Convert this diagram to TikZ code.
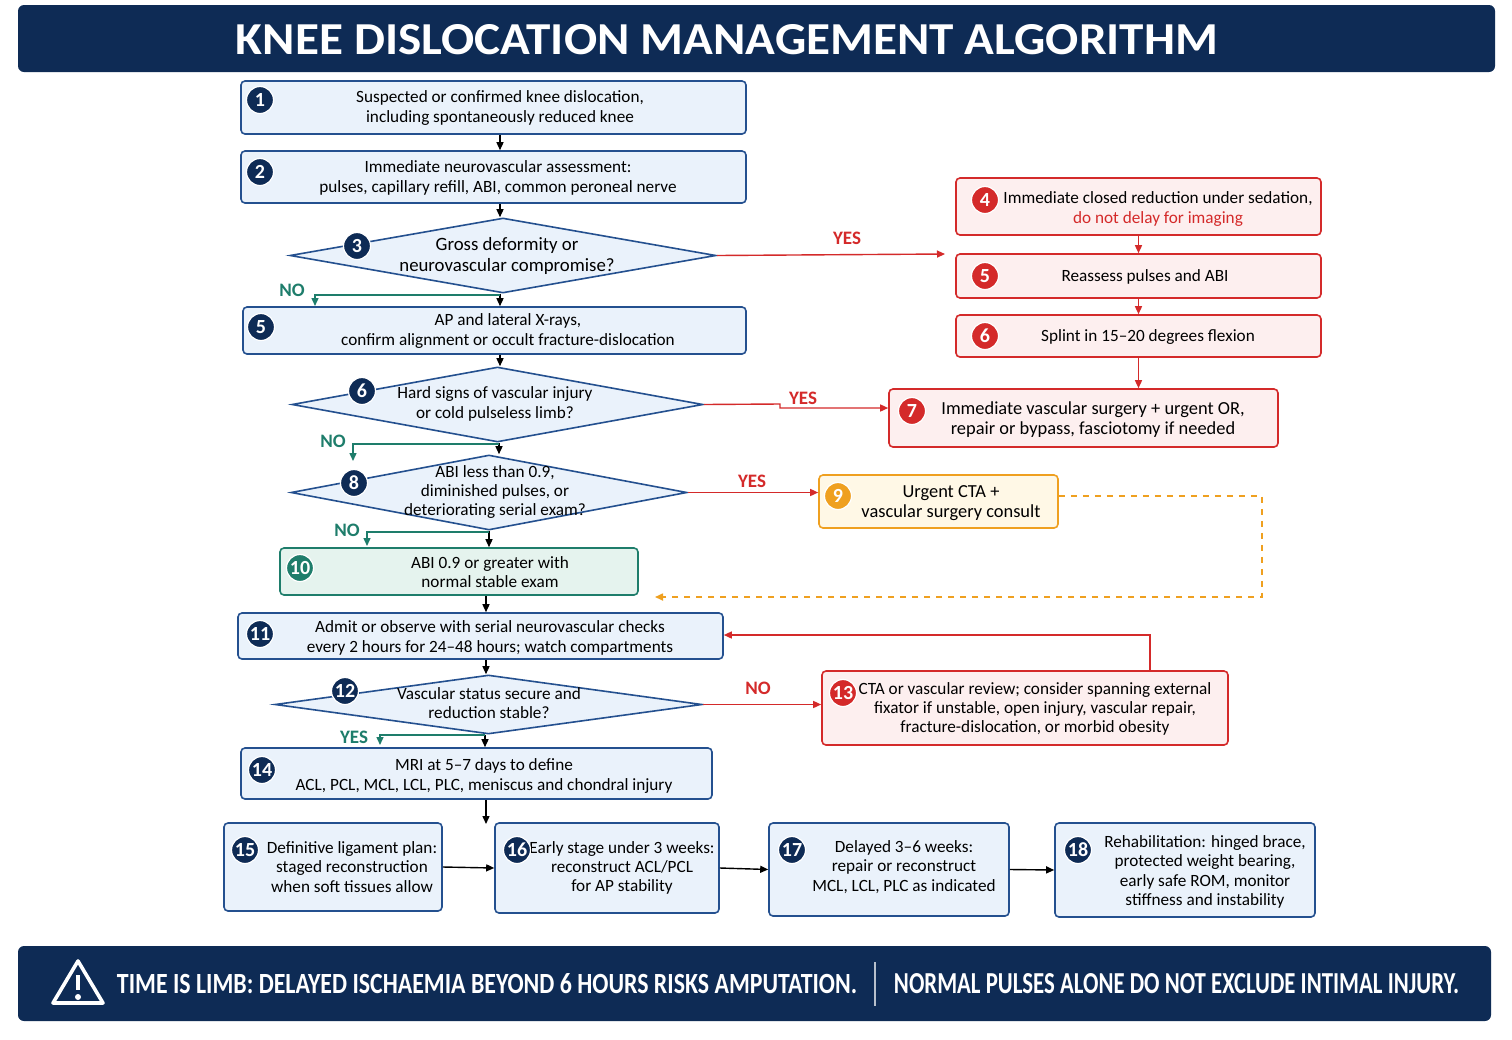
\documentclass[tikz,border=0pt]{standalone}
\usepackage{fontspec}
\setmainfont{Carlito}
\usetikzlibrary{shapes.geometric,arrows.meta,calc}
\definecolor{navy}{HTML}{0E2B55}
\definecolor{bblue}{HTML}{24508F}
\definecolor{bfill}{HTML}{EAF2FB}
\definecolor{rred}{HTML}{D42A2A}
\definecolor{rfill}{HTML}{FDEFEF}
\definecolor{oor}{HTML}{EFA020}
\definecolor{ofill}{HTML}{FFF8E6}
\definecolor{teal1}{HTML}{1E7D6B}
\definecolor{tfill}{HTML}{E5F3EE}
\begin{document}
\begin{tikzpicture}[x=0.5pt,y=-0.5pt,
 font=\fontsize{8.6}{9.6}\selectfont,
 box/.style={draw=bblue,fill=bfill,line width=0.8pt,rounded corners=2pt,inner sep=0pt},
 rbox/.style={box,draw=rred,fill=rfill},
 obox/.style={box,draw=oor,fill=ofill},
 tbox/.style={box,draw=teal1,fill=tfill},
 dia/.style={draw=bblue,fill=bfill,line width=0.8pt,diamond,inner sep=0pt},
 txt/.style={align=center,inner sep=0pt},
 bad/.style={circle,fill=navy,draw=white,line width=0.6pt,text=white,font=\bfseries\fontsize{10}{10}\selectfont,minimum size=13.5pt,inner sep=0pt},
 arr/.style={-{Triangle[length=4pt,width=3.5pt]},line width=0.7pt,black},
 rarr/.style={arr,rred},
 tarr/.style={arr,teal1},
 lab/.style={font=\bfseries\fontsize{9.5}{10}\selectfont,inner sep=0pt}]
\useasboundingbox (0,0) rectangle (1512,1040);
\fill[white] (0,0) rectangle (1512,1040);
% title
\fill[navy,rounded corners=3pt] (18,5) rectangle (1495,72);
\node[text=white,inner sep=0pt] (title) at (727,40) {\resizebox{491pt}{15pt}{\bfseries KNEE DISLOCATION MANAGEMENT ALGORITHM}};
% boxes
\node[box,minimum width=252.5pt,minimum height=26.5pt] (n1) at (493.5,107.5) {};
\node[box,minimum width=252.5pt,minimum height=26pt] (n2) at (493.5,177) {};
\node[dia,minimum width=213pt,minimum height=37.5pt] (d3) at (503,255.5) {};
\node[box,minimum width=251.5pt,minimum height=23.5pt] (n5) at (494.5,330.5) {};
\node[dia,minimum width=205.5pt,minimum height=37.5pt] (d6) at (497.5,404.5) {};
\node[dia,minimum width=198pt,minimum height=37.5pt] (d8) at (489,492.5) {};
\node[tbox,minimum width=179pt,minimum height=23.5pt] (n10) at (459,571.5) {};
\node[box,minimum width=242.5pt,minimum height=23pt] (n11) at (480.5,636) {};
\node[dia,minimum width=213.5pt,minimum height=29.5pt] (d12) at (488.5,704.5) {};
\node[box,minimum width=235.5pt,minimum height=25.5pt] (n14) at (476.5,773.5) {};
\node[box,minimum width=109pt,minimum height=44pt] (n15) at (333,867) {};
\node[box,minimum width=112pt,minimum height=45pt] (n16) at (607,868) {};
\node[box,minimum width=120pt,minimum height=46.5pt] (n17) at (889,869.5) {};
\node[box,minimum width=130pt,minimum height=47pt] (n18) at (1185,870) {};
\node[rbox,minimum width=182.5pt,minimum height=28.5pt] (n4) at (1138.5,206.5) {};
\node[rbox,minimum width=182.5pt,minimum height=22pt] (n5r) at (1138.5,276) {};
\node[rbox,minimum width=182.5pt,minimum height=21pt] (n6r) at (1138.5,336) {};
\node[rbox,minimum width=194.5pt,minimum height=29pt] (n7) at (1083.5,418) {};
\node[obox,minimum width=119.5pt,minimum height=26.5pt] (n9) at (938.5,501.5) {};
\node[rbox,minimum width=203pt,minimum height=37pt] (n13) at (1025,708) {};
% texts
\node[txt] (t1) at (500,108) {Suspected or confirmed knee dislocation,\\including spontaneously reduced knee};
\node[txt] (t2) at (498,178) {Immediate neurovascular assessment:\\pulses, capillary refill, ABI, common peroneal nerve};
\node[txt,font=\fontsize{9.4}{10.2}\selectfont] (t3) at (507,256) {Gross deformity or\\neurovascular compromise?};
\node[txt] (t4) at (1158,209) {Immediate closed reduction under sedation,\\\textcolor{rred}{do not delay for imaging}};
\node[txt] (t5r) at (1145,277) {Reassess pulses and ABI};
\node[txt] (t6r) at (1148,337) {Splint in 15--20 degrees flexion};
\node[txt] (t5) at (508,331) {AP and lateral X-rays,\\confirm alignment or occult fracture-dislocation};
\node[txt] (t6) at (495,404) {Hard signs of vascular injury\\or cold pulseless limb?};
\node[txt,font=\fontsize{9.2}{10}\selectfont] (t7) at (1093,420) {Immediate vascular surgery + urgent OR,\\repair or bypass, fasciotomy if needed};
\node[txt] (t8) at (495,492) {ABI less than 0.9,\\diminished pulses, or\\deteriorating serial exam?};
\node[txt,font=\fontsize{9.2}{10}\selectfont] (t9) at (951,503) {Urgent CTA +\\vascular surgery consult};
\node[txt] (t10) at (490,572) {ABI 0.9 or greater with\\normal stable exam};
\node[txt] (t11) at (490,638) {Admit or observe with serial neurovascular checks\\every 2 hours for 24--48 hours; watch compartments};
\node[txt] (t12) at (489,703) {Vascular status secure and\\reduction stable?};
\node[txt] (t13) at (1035,709) {CTA or vascular review; consider spanning external\\fixator if unstable, open injury, vascular repair,\\fracture-dislocation, or morbid obesity};
\node[txt] (t14) at (484,776) {MRI at 5--7 days to define\\ACL, PCL, MCL, LCL, PLC, meniscus and chondral injury};
\node[txt] (t15) at (352,867) {Definitive ligament plan:\\staged reconstruction\\when soft tissues allow};
\node[txt] (t16) at (622,868) {Early stage under 3 weeks:\\reconstruct ACL/PCL\\for AP stability};
\node[txt] (t17) at (904,867) {Delayed 3--6 weeks:\\repair or reconstruct\\MCL, LCL, PLC as indicated};
\node[txt] (t18) at (1205,872) {Rehabilitation: hinged brace,\\protected weight bearing,\\early safe ROM, monitor\\stiffness and instability};
% badges
\node[bad] (b1) at (260,100) {1};
\node[bad] (b2) at (260,172) {2};
\node[bad] (b3) at (357,246) {3};
\node[bad,fill=rred] (b4) at (985,200) {4};
\node[bad,fill=rred] (b5r) at (985,276) {5};
\node[bad,fill=rred] (b6r) at (985,336) {6};
\node[bad] (b5) at (261,327) {5};
\node[bad] (b6) at (362,391) {6};
\node[bad,fill=rred] (b7) at (912,411) {7};
\node[bad] (b8) at (354,483) {8};
\node[bad,fill=oor] (b9) at (838,496) {9};
\node[bad,fill=teal1] (b10) at (300,568) {10};
\node[bad] (b11) at (260,634) {11};
\node[bad] (b12) at (345,691) {12};
\node[bad,fill=rred] (b13) at (843,693) {13};
\node[bad] (b14) at (262,770) {14};
\node[bad] (b15) at (245,850) {15};
\node[bad] (b16) at (517,850) {16};
\node[bad] (b17) at (792,850) {17};
\node[bad] (b18) at (1078,850) {18};
% coordinates
\coordinate (c3no) at (315,295);
\coordinate (c3yes) at (945,254);
\coordinate (c6no) at (353,444);
\coordinate (c6yes) at (780,404);
\coordinate (c8no) at (367,532);
\coordinate (c9a) at (1262,496);
\coordinate (c9b) at (1262,597);
\coordinate (c9c) at (655,597);
\coordinate (c13a) at (1150,635);
\coordinate (c12yes) at (380,735);
\coordinate (c14) at (486,824);
% connectors
\draw[arr] (n1.south -| 500,0) -- (n2.north -| 500,0);
\draw[arr] (n2.south -| 500,0) -- (d3.north -| 500,0);
\draw[arr] (d3.south -| 500,0) -- (n5.north -| 500,0);
\draw[tarr] (500,295) -- (c3no) -- ++(0,11);
\node[lab,text=teal1] at (292,290) {NO};
\draw[rarr] (d3.east) -- (c3yes);
\node[lab,text=rred] at (847,238) {YES};
\draw[rarr] (n4) -- (n5r);
\draw[rarr] (n5r) -- (n6r);
\draw[rarr] (n6r.south) -- (n7.north -| n6r.south);
\draw[arr] (n5.south -| 500,0) -- (d6.north -| 500,0);
\draw[rarr] (d6.east) -- (c6yes) -- (780,408) -- (n7.west |- 0,408);
\node[lab,text=rred] at (803,398) {YES};
\draw[arr] (d6.south -| 499,0) -- (d8.north -| 499,0);
\draw[tarr] (499,444) -- (c6no) -- ++(0,17);
\node[lab,text=teal1] at (333,441) {NO};
\draw[rarr] (d8.east) -- (n9.west |- d8.east);
\node[lab,text=rred] at (752,481) {YES};
\draw[arr] (d8.south) -- (n10.north -| d8.south);
\draw[tarr] (489,532) -- (c8no) -- ++(0,14);
\node[lab,text=teal1] at (347,530) {NO};
\draw[oor,dashed,line width=0.8pt,-{Triangle[length=4pt,width=3.5pt]}] (n9.east |- c9a) -- (c9a) -- (c9b) -- (c9c);
\draw[arr] (n10.south -| 486,0) -- (n11.north -| 486,0);
\draw[rarr] (n13.north -| c13a) -- (c13a) -- (n11.east |- c13a);
\draw[arr] (n11.south -| 486,0) -- (d12.north -| 486,0);
\draw[rarr] (d12.east) -- (n13.west |- d12.east);
\node[lab,text=rred] at (758,688) {NO};
\draw[arr] (d12.south -| 485,0) -- (n14.north -| 485,0);
\draw[tarr] (485,735) -- (c12yes) -- ++(0,10);
\node[lab,text=teal1] at (354,737) {YES};
\draw[arr] (n14.south -| c14) -- (c14);
\draw[arr] (n15.east) -- (n16.west);
\draw[arr] (n16.east) -- (n17.west);
\draw[arr] (n17.east) -- (n18.west);
% bottom bar
\fill[navy,rounded corners=3pt] (18,946) rectangle (1491,1021);
\draw[white,line width=1.8pt,line join=round] (78,961) -- (103,1003) -- (53,1003) -- cycle;
\draw[white,line width=2.2pt] (78,975) -- (78,990);
\fill[white] (78,997) circle (1.5pt);
\node[text=white,inner sep=0pt] (w1) at (487,984) {\resizebox{370pt}{10pt}{\bfseries TIME IS LIMB: DELAYED ISCHAEMIA BEYOND 6 HOURS RISKS AMPUTATION.}};
\draw[white!70!navy,line width=0.8pt] (875,962) -- (875,1006);
\node[text=white,inner sep=0pt] (w2) at (1176.5,984) {\resizebox{282.5pt}{10pt}{\bfseries NORMAL PULSES ALONE DO NOT EXCLUDE INTIMAL INJURY.}};
\end{tikzpicture}
\end{document}
